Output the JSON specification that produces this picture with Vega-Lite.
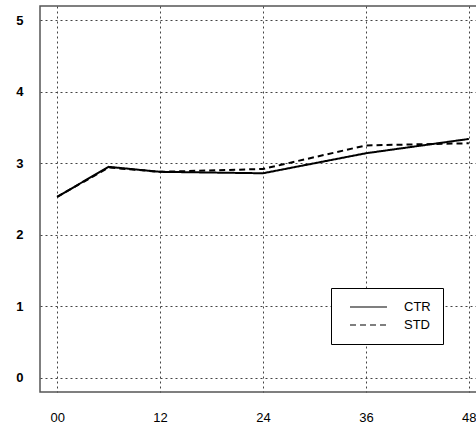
{
  "$schema": "https://vega.github.io/schema/vega-lite/v6.json",
  "autosize": {"type": "none"},
  "padding": {"left": 40, "top": 6, "right": 0, "bottom": 41},
  "width": 446,
  "height": 386,
  "background": "white",
  "config": {
    "view": {"stroke": "#555", "strokeWidth": 1.5},
    "font": "Liberation Sans",
    "axis": {
      "grid": true,
      "gridColor": "#444",
      "gridDash": [2, 3],
      "gridWidth": 1,
      "gridOpacity": 1,
      "domain": false,
      "ticks": false,
      "labelFont": "Liberation Sans",
      "labelFontSize": 13,
      "labelColor": "black",
      "title": null
    }
  },
  "data": {
    "values": [
      {"hour": 0, "value": 2.53, "series": "CTR"},
      {"hour": 6, "value": 2.95, "series": "CTR"},
      {"hour": 12, "value": 2.88, "series": "CTR"},
      {"hour": 24, "value": 2.86, "series": "CTR"},
      {"hour": 36, "value": 3.14, "series": "CTR"},
      {"hour": 48, "value": 3.34, "series": "CTR"},
      {"hour": 0, "value": 2.53, "series": "STD"},
      {"hour": 6, "value": 2.94, "series": "STD"},
      {"hour": 12, "value": 2.88, "series": "STD"},
      {"hour": 24, "value": 2.92, "series": "STD"},
      {"hour": 36, "value": 3.25, "series": "STD"},
      {"hour": 48, "value": 3.28, "series": "STD"}
    ]
  },
  "mark": {"type": "line", "color": "black", "strokeWidth": 2, "clip": true},
  "encoding": {
    "x": {
      "field": "hour",
      "type": "quantitative",
      "scale": {"domain": [-2, 50], "nice": false, "zero": false},
      "axis": {"values": [0, 12, 24, 36, 48], "labelExpr": "datum.value == 0 ? '00' : datum.label", "labelPadding": 19}
    },
    "y": {
      "field": "value",
      "type": "quantitative",
      "scale": {"domain": [-0.2, 5.2], "nice": false, "zero": false},
      "axis": {"values": [0, 1, 2, 3, 4, 5], "labelPadding": 17, "labelFontWeight": "bold"}
    },
    "strokeDash": {
      "field": "series",
      "type": "nominal",
      "scale": {"domain": ["CTR", "STD"], "range": [[1, 0], [6, 4]]},
      "legend": {
        "title": null,
        "orient": "none",
        "legendX": 291,
        "legendY": 282,
        "strokeColor": "black",
        "fillColor": "white",
        "padding": 12,
        "symbolType": "M0,0H6",
        "symbolSize": 152,
        "symbolStrokeColor": "black",
        "symbolStrokeWidth": 1.2,
        "labelFontSize": 13,
        "labelColor": "black",
        "labelOffset": 47,
        "rowPadding": 4
      }
    }
  }
}
